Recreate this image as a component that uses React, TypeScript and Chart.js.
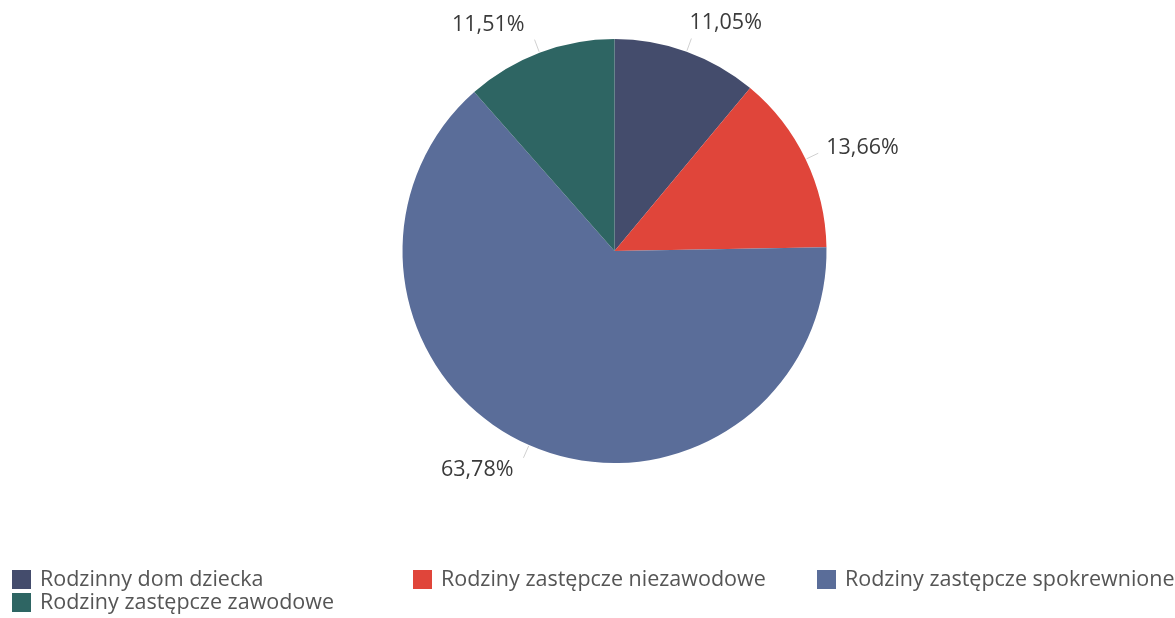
import React, { useEffect, useRef } from "react";
import { Chart, registerables } from "chart.js";

Chart.register(...registerables);

const categories = [
  "Rodzinny dom dziecka",
  "Rodziny zastępcze niezawodowe",
  "Rodziny zastępcze spokrewnione",
  "Rodziny zastępcze zawodowe",
];
const values = [11.05, 13.66, 63.78, 11.51];
const colors = ["#444c6c", "#e0453a", "#5a6d99", "#2e6563"];
const legendColumns = [12, 413, 817];

const fmt = (v: number) => v.toFixed(2).replace(".", ",") + "%";

const labelPlugin = {
  id: "outLabels",
  afterDatasetsDraw(chart: any) {
    const ctx = chart.ctx;
    const meta = chart.getDatasetMeta(0);
    ctx.save();
    meta.data.forEach((arc: any, i: number) => {
      const { x, y, startAngle, endAngle, outerRadius } = arc.getProps(
        ["x", "y", "startAngle", "endAngle", "outerRadius"],
        true
      );
      const mid = (startAngle + endAngle) / 2;
      const c = Math.cos(mid);
      const s = Math.sin(mid);
      const x1 = x + c * (outerRadius + 1);
      const y1 = y + s * (outerRadius + 1);
      const x2 = x + c * (outerRadius + 14);
      const y2 = y + s * (outerRadius + 14);
      ctx.strokeStyle = "#d0d0d0";
      ctx.lineWidth = 1;
      ctx.beginPath();
      ctx.moveTo(x1, y1);
      ctx.lineTo(x2, y2);
      ctx.stroke();
      ctx.font = "500 21.5px 'Open Sans', 'Liberation Sans', Arial, sans-serif";
      ctx.fillStyle = "#3a3a3a";
      const right = c >= 0;
      const vertical = Math.abs(s) > 0.85;
      ctx.textAlign = right ? "left" : "right";
      let tx = right ? x2 + (vertical ? -2 : 8) : x2 - 10;
      let ty: number;
      if (vertical) {
        if (s < 0) {
          ctx.textBaseline = "alphabetic";
          ty = y2 - 9;
        } else {
          ctx.textBaseline = "middle";
          ty = y2 + 12;
        }
      } else {
        ctx.textBaseline = "middle";
        ty = y2 - 5;
      }
      ctx.fillText(fmt(values[i]), tx, ty);
    });
    ctx.restore();
  },
};

const legendPlugin = {
  id: "gridLegend",
  afterDraw(chart: any) {
    const ctx = chart.ctx;
    ctx.save();
    ctx.font = "21.5px 'Open Sans', 'Liberation Sans', Arial, sans-serif";
    ctx.textBaseline = "middle";
    ctx.textAlign = "left";
    categories.forEach((name, i) => {
      const col = i % legendColumns.length;
      const row = Math.floor(i / legendColumns.length);
      const bx = legendColumns[col];
      const cy = 579 + row * 23;
      ctx.fillStyle = colors[i];
      ctx.fillRect(bx, cy - 9, 19, 19);
      ctx.fillStyle = "#555555";
      ctx.fillText(name, bx + 28, cy + 1);
    });
    ctx.restore();
  },
};

export default function App() {
  const ref = useRef<HTMLCanvasElement>(null);
  useEffect(() => {
    if (!ref.current) return;
    const chart = new Chart(ref.current, {
      type: "pie",
      data: {
        labels: categories,
        datasets: [
          {
            data: values,
            backgroundColor: colors,
            borderWidth: 0,
          },
        ],
      },
      options: {
        responsive: false,
        animation: false,
        layout: { padding: { left: 402, right: 348, top: 39, bottom: 155 } },
        plugins: {
          legend: { display: false },
          tooltip: { enabled: false },
        },
      },
      plugins: [labelPlugin, legendPlugin],
    });
    return () => chart.destroy();
  }, []);
  return (
    <div style={{ position: "fixed", left: 0, top: 0, width: 1175, height: 618, background: "#fff" }}>
      <canvas ref={ref} width={1175} height={618} style={{ width: 1175, height: 618 }} />
    </div>
  );
}
